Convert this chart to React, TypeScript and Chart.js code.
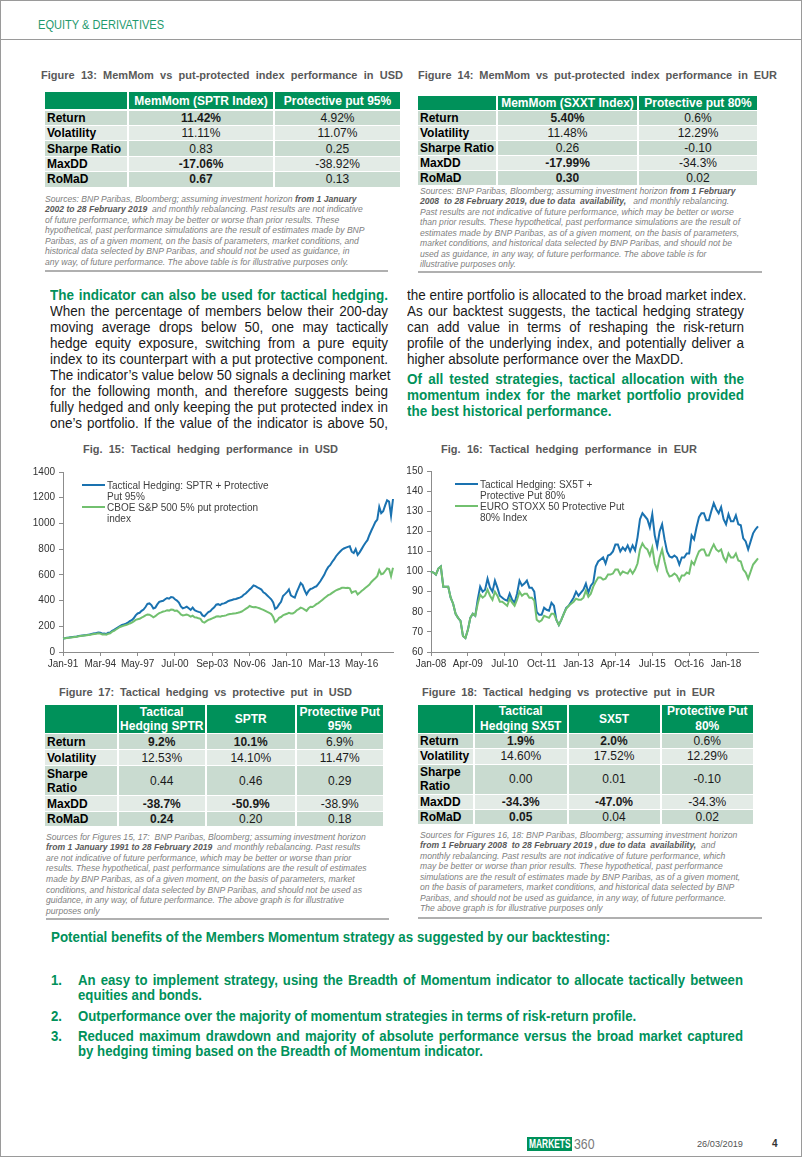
import React, { useEffect, useRef } from "react";
import { Chart, registerables } from "chart.js";

Chart.register(...registerables);

const FONT = "'Liberation Sans', Arial, sans-serif";
const GREEN = "#00915a";
const DARK = "#c9dbd0";
const LIGHT = "#e3ebe6";
const BLUE_LINE = "#1a72b0";
const GREEN_LINE = "#72c06f";

// ---------- categories ----------
const MONTHS = ["Jan", "Feb", "Mar", "Apr", "May", "Jun", "Jul", "Aug", "Sep", "Oct", "Nov", "Dec"];
function monthLabels(startYear: number, count: number, step: number): string[] {
  const out: string[] = [];
  for (let i = 0; i < count; i++) {
    const m = i * step;
    const y = startYear + Math.floor(m / 12);
    out.push(MONTHS[m % 12] + "-" + String(y % 100).padStart(2, "0"));
  }
  return out;
}
// USD: every second month, Jan-91 .. Jan-19
const usdCategories = monthLabels(1991, 169, 2);
// EUR: monthly, Jan-08 .. Feb-19
const eurCategories = monthLabels(2008, 134, 1);
const usdTickEvery = 19; // Jan-91, Mar-94, May-97 ...
const eurTickEvery = 15; // Jan-08, Apr-09, Jul-10 ...
const usdYTicks = { min: 0, max: 1400, step: 200 };
const eurYTicks = { min: 60, max: 150, step: 10 };

// ---------- series ----------
const usdTactical = [
  105, 107, 110, 112, 115, 117, 119, 121, 124, 126,
  128, 130, 132, 135, 138, 143, 145, 148, 152, 150,
  142, 144, 140, 150, 152, 165, 172, 182, 192, 202,
  210, 215, 220, 228, 240, 248, 262, 285, 300, 305,
  320, 330, 350, 375, 378, 365, 338, 345, 370, 390,
  395, 398, 410, 420, 415, 428, 425, 410, 400, 385,
  355, 340, 345, 352, 340, 328, 345, 325, 318, 312,
  308, 285, 278, 295, 310, 318, 335, 348, 368, 372,
  365, 375, 378, 385, 395, 400, 405, 410, 412, 418,
  423, 430, 445, 455, 470, 486, 500, 518, 512, 503,
  495, 486, 465, 455, 440, 425, 410, 385, 335, 345,
  370, 390, 436, 450, 465, 486, 440, 430, 423, 465,
  500, 536, 520, 480, 448, 475, 490, 495, 505, 511,
  530, 550, 575, 600, 635, 660, 675, 700, 720, 745,
  763, 780, 795, 805, 812, 818, 822, 780, 770, 800,
  755, 775, 800, 826, 850, 870, 910, 945, 977, 1010,
  1030, 1128, 1080, 1095, 1140, 1180, 1170, 1060, 1190,
];
const usdProtective = [
  105, 107, 109, 111, 113, 115, 117, 119, 122, 124,
  126, 128, 130, 132, 134, 138, 140, 142, 146, 143,
  136, 138, 135, 142, 145, 158, 165, 175, 185, 195,
  200, 205, 210, 215, 222, 228, 238, 250, 255, 258,
  268, 275, 285, 292, 290, 282, 270, 278, 292, 302,
  308, 315, 318, 325, 322, 330, 328, 320, 322, 310,
  292, 285, 288, 292, 285, 275, 282, 270, 268, 262,
  258, 235, 228, 240, 250, 255, 262, 268, 276, 278,
  275, 280, 282, 285, 292, 295, 297, 300, 302, 305,
  309, 315, 325, 335, 345, 358, 352, 348, 350, 345,
  340, 334, 328, 320, 312, 305, 295, 272, 232, 245,
  265, 272, 285, 292, 297, 305, 300, 300, 309, 325,
  334, 345, 340, 330, 320, 340, 352, 350, 360, 372,
  380, 392, 405, 418, 430, 442, 448, 460, 470, 480,
  486, 492, 499, 500, 498, 499, 495, 461, 470, 474,
  448, 460, 475, 486, 500, 512, 524, 545, 560, 574,
  590, 637, 605, 610, 630, 650, 645, 590, 655,
];
const eurTactical = [
  100, 99.5, 98.5, 101.5, 102.5, 92.5, 92.5, 92.5, 87, 84,
  79, 77, 75.5, 68, 67, 71, 77, 79, 78, 86,
  92.5, 90, 91, 96.5, 92, 90, 95.5, 92, 88, 87,
  86, 85.5, 89, 86, 84.5, 89, 95.5, 93, 94, 95.5,
  92, 92, 90, 80, 78.5, 78.5, 82, 81, 80.5, 84.5,
  83, 76, 73.5, 76, 79, 82, 83, 85, 87, 90,
  88, 89.5, 91, 94, 89.5, 93, 94.5, 102.5, 105, 106,
  107, 104, 108, 108.5, 110, 113.5, 113.5, 110, 112, 110.5,
  113, 110, 113, 110.5, 117, 126, 129, 127.5, 126, 122,
  128.5, 118, 112.5, 120, 123.5, 116, 110, 107.5, 107, 108,
  107, 103.5, 107, 107, 109, 109, 118, 116, 122, 127,
  129, 129, 125.5, 125.5, 130, 134, 131, 129, 132, 126,
  123.5, 128.5, 125, 125, 128, 123.5, 123, 116.5, 115, 111,
  115, 119, 121, 122.5,
];
const eurProtective = [
  100, 99.5, 98.5, 101.5, 102.5, 92.5, 92.5, 92.5, 87, 84,
  79, 77, 75.5, 68, 67, 71, 77, 79, 78, 84,
  88.5, 87, 88, 91, 88, 86, 90, 88, 85, 85,
  84, 83, 86.5, 84.5, 83, 86, 90, 88, 89, 89,
  87, 87, 85.5, 76, 75, 75.8, 78, 77.5, 77, 79,
  79, 76, 73.5, 76, 79, 81.5, 83, 84, 85, 86.5,
  86, 86, 87, 90.5, 87.5, 89, 92.5, 95, 97, 97,
  96, 96.5, 98.5, 98.5, 99, 101, 101, 98.5, 100, 99.5,
  99, 101, 99, 101, 104, 111, 114, 112, 111, 108,
  112, 104, 101, 107, 111, 105, 100, 97.5, 98, 99,
  98, 95.5, 98, 98, 99.5, 99, 105, 103.5, 107, 110,
  111, 111, 108, 108, 111, 113.5, 111, 110, 111, 107,
  105, 109, 107, 107, 109, 105.5, 105, 101, 99.5, 96.5,
  100, 103.5, 105, 106.5,
];

// ---------- chart component ----------
type Series = { label: string; data: number[]; color: string };
function LineChart(props: {
  left: number; top: number; width: number; height: number;
  labels: string[]; series: Series[];
  y: { min: number; max: number; step: number };
  tickEvery: number; yAxisWidth: number; padTop: number; padRight: number;
}) {
  const ref = useRef<HTMLCanvasElement>(null);
  useEffect(() => {
    if (!ref.current) return;
    const axisColor = "#8c8c8c";
    const tickFont = { family: FONT, size: 10 };
    const chart = new Chart(ref.current, {
      type: "line",
      data: {
        labels: props.labels,
        datasets: props.series.map((s) => ({
          label: s.label,
          data: s.data,
          borderColor: s.color,
          backgroundColor: s.color,
          borderWidth: 2,
          pointRadius: 0,
          tension: 0,
          fill: false,
        })),
      },
      options: {
        animation: false,
        responsive: false,
        maintainAspectRatio: false,
        events: [],
        layout: { padding: { top: props.padTop, right: props.padRight, left: 0, bottom: 0 } },
        plugins: { legend: { display: false }, tooltip: { enabled: false } },
        scales: {
          x: {
            type: "category",
            offset: false,
            grid: { drawOnChartArea: false, drawTicks: true, tickLength: 4, color: axisColor },
            border: { display: true, color: axisColor, width: 1 },
            ticks: { autoSkip: false, maxRotation: 0, minRotation: 0, font: tickFont, color: "#333", padding: 2 },
            afterBuildTicks: (scale: any) => {
              scale.ticks = scale.ticks.filter((t: any) => t.value % props.tickEvery === 0);
            },
            afterFit: (scale: any) => {
              scale.height = 23;
            },
          },
          y: {
            min: props.y.min,
            max: props.y.max,
            grid: { drawOnChartArea: false, drawTicks: true, tickLength: 4, color: axisColor },
            border: { display: true, color: axisColor, width: 1 },
            ticks: {
              stepSize: props.y.step,
              font: tickFont,
              color: "#333",
              padding: 4,
              callback: (v: any) => String(v),
            },
            afterFit: (scale: any) => {
              scale.width = props.yAxisWidth;
            },
          },
        },
      },
    } as any);
    return () => chart.destroy();
  }, []);
  return (
    <canvas
      ref={ref}
      width={props.width}
      height={props.height}
      style={{ position: "absolute", left: props.left, top: props.top, width: props.width, height: props.height }}
    />
  );
}

// ---------- text helpers ----------
function L(p: { x: number; y: number; w?: number; j?: boolean; lh?: number; sx?: number; s?: React.CSSProperties; children?: React.ReactNode }) {
  const lh = p.lh ?? 16;
  const sx = p.sx ?? 1;
  return (
    <div
      style={{
        position: "absolute",
        left: p.x,
        top: p.y - lh / 2,
        width: p.w !== undefined ? p.w / sx : undefined,
        height: lh,
        lineHeight: lh + "px",
        whiteSpace: "nowrap",
        textAlign: p.j ? "justify" : "left",
        textAlignLast: p.j ? "justify" : "left",
        transform: sx !== 1 ? `scaleX(${sx})` : undefined,
        transformOrigin: "0 50%",
        ...p.s,
      } as React.CSSProperties}
    >
      {p.children}
    </div>
  );
}

const BODY_SX = 0.87;
const bodyStyle: React.CSSProperties = { fontFamily: FONT, fontSize: 15.5, color: "#1a1a1a" };
const bodyGreen: React.CSSProperties = { fontFamily: FONT, fontSize: 15.5, color: GREEN, fontWeight: "bold" };
const titleStyle: React.CSSProperties = { fontFamily: FONT, fontSize: 11, fontWeight: "bold", color: "#595959" };
const srcStyle: React.CSSProperties = { fontFamily: FONT, fontSize: 8.6, fontStyle: "italic", color: "#808080" };
const B = (p: { children: React.ReactNode }) => <span style={{ fontWeight: "bold", color: "#5a5a5a" }}>{p.children}</span>;

function Source(p: { x: number; y0: number; dy: number; lines: React.ReactNode[] }) {
  return (
    <>
      {p.lines.map((ln, i) => (
        <L key={i} x={p.x} y={p.y0 + i * p.dy} lh={10.5} s={srcStyle}>{ln}</L>
      ))}
    </>
  );
}

// ---------- table ----------
type Row = { label: string; vals: [string, boolean][] };
function Table(p: {
  cols: [number, number][]; headTop: number; headH: number; head: string[];
  rowTops: number[]; rowHs: number[]; rows: Row[]; headLh?: number;
}) {
  const els: React.ReactNode[] = [];
  p.cols.forEach(([a, b], ci) => {
    els.push(
      <div key={"h" + ci} style={{
        position: "absolute", left: a, top: p.headTop, width: b - a, height: p.headH, background: GREEN,
        color: "#fff", fontFamily: FONT, fontWeight: "bold", fontSize: 12, lineHeight: (p.headLh ?? 14) + "px",
        display: "flex", alignItems: "center", justifyContent: "center", textAlign: "center", whiteSpace: "pre",
      }}>{p.head[ci]}</div>
    );
  });
  p.rows.forEach((r, ri) => {
    const bg = ri % 2 === 0 ? DARK : LIGHT;
    p.cols.forEach(([a, b], ci) => {
      const isLabel = ci === 0;
      const text = isLabel ? r.label : r.vals[ci - 1][0];
      const bold = isLabel ? true : r.vals[ci - 1][1];
      els.push(
        <div key={"r" + ri + "c" + ci} style={{
          position: "absolute", left: a, top: p.rowTops[ri], width: b - a, height: p.rowHs[ri], background: bg,
          display: "flex", alignItems: "center", justifyContent: isLabel ? "flex-start" : "center",
          paddingLeft: isLabel ? 2 : 0, boxSizing: "border-box", fontFamily: FONT, fontSize: 12, lineHeight: "14px",
          fontWeight: bold ? "bold" : "normal", color: isLabel ? "#000" : "#1a1a1a", whiteSpace: "pre",
        }}>{text}</div>
      );
    });
  });
  return <>{els}</>;
}

const fig13Rows: Row[] = [
  { label: "Return", vals: [["11.42%", true], ["4.92%", false]] },
  { label: "Volatility", vals: [["11.11%", false], ["11.07%", false]] },
  { label: "Sharpe Ratio", vals: [["0.83", false], ["0.25", false]] },
  { label: "MaxDD", vals: [["-17.06%", true], ["-38.92%", false]] },
  { label: "RoMaD", vals: [["0.67", true], ["0.13", false]] },
];
const fig14Rows: Row[] = [
  { label: "Return", vals: [["5.40%", true], ["0.6%", false]] },
  { label: "Volatility", vals: [["11.48%", false], ["12.29%", false]] },
  { label: "Sharpe Ratio", vals: [["0.26", false], ["-0.10", false]] },
  { label: "MaxDD", vals: [["-17.99%", true], ["-34.3%", false]] },
  { label: "RoMaD", vals: [["0.30", true], ["0.02", false]] },
];
const fig17Rows: Row[] = [
  { label: "Return", vals: [["9.2%", true], ["10.1%", true], ["6.9%", false]] },
  { label: "Volatility", vals: [["12.53%", false], ["14.10%", false], ["11.47%", false]] },
  { label: "Sharpe\nRatio", vals: [["0.44", false], ["0.46", false], ["0.29", false]] },
  { label: "MaxDD", vals: [["-38.7%", true], ["-50.9%", true], ["-38.9%", false]] },
  { label: "RoMaD", vals: [["0.24", true], ["0.20", false], ["0.18", false]] },
];
const fig18Rows: Row[] = [
  { label: "Return", vals: [["1.9%", true], ["2.0%", true], ["0.6%", false]] },
  { label: "Volatility", vals: [["14.60%", false], ["17.52%", false], ["12.29%", false]] },
  { label: "Sharpe\nRatio", vals: [["0.00", false], ["0.01", false], ["-0.10", false]] },
  { label: "MaxDD", vals: [["-34.3%", true], ["-47.0%", true], ["-34.3%", false]] },
  { label: "RoMaD", vals: [["0.05", true], ["0.04", false], ["0.02", false]] },
];

function Legend(p: { x: number; y: number; items: { color: string; lines: string[] }[] }) {
  const els: React.ReactNode[] = [];
  let y = p.y;
  p.items.forEach((it, i) => {
    els.push(<div key={"s" + i} style={{ position: "absolute", left: p.x, top: y - 1, width: 23, height: 2.2, background: it.color }} />);
    it.lines.forEach((ln, k) => {
      els.push(
        <L key={"t" + i + "_" + k} x={p.x + 25} y={y + k * 11} lh={11} s={{ fontFamily: FONT, fontSize: 10, color: "#404040" }}>{ln}</L>
      );
    });
    y += 22;
  });
  return <>{els}</>;
}

function Rule(p: { x: number; y: number; w: number; h?: number; c?: string }) {
  return <div style={{ position: "absolute", left: p.x, top: p.y, width: p.w, height: p.h ?? 2, background: p.c ?? "#b0b0b0" }} />;
}

export default function App() {
  const leftLines = [
    "When the percentage of members below their 200-day",
    "moving average drops below 50, one may tactically",
    "hedge equity exposure, switching from a pure equity",
    "index to its counterpart with a put protective component.",
    "The indicator\u2019s value below 50 signals a declining market",
    "for the following month, and therefore suggests being",
    "fully hedged and only keeping the put protected index in",
    "one\u2019s portfolio. If the value of the indicator is above 50,",
  ];
  const rightLines = [
    "the entire portfolio is allocated to the broad market index.",
    "As our backtest suggests, the tactical hedging strategy",
    "can add value in terms of reshaping the risk-return",
    "profile of the underlying index, and potentially deliver a",
  ];
  const LIST_SX = 0.88;
  const listStyle: React.CSSProperties = { fontFamily: FONT, fontSize: 15, color: GREEN, fontWeight: "bold" };
  return (
    <div style={{ position: "absolute", left: 0, top: 0, width: 802, height: 1157, background: "#fff", overflow: "hidden" }}>
      <div style={{ position: "absolute", left: 0, top: 0, width: 802, height: 1157, border: "1.5px solid #9a9a9a", boxSizing: "border-box" }} />
      {/* header */}
      <L x={38} y={25} lh={18} sx={0.82} s={{ fontFamily: FONT, fontSize: 13.5, color: "#1f9a6e" }}>EQUITY &amp; DERIVATIVES</L>
      <Rule x={0} y={38.5} w={802} h={1.5} c="#9a9a9a" />

      {/* Figure 13 */}
      <L x={41} y={75} w={362} j lh={14} s={titleStyle}>Figure 13: MemMom vs put-protected index performance in USD</L>
      <Table
        cols={[[45, 127], [129, 273], [275, 400]]}
        headTop={92} headH={17}
        head={["", "MemMom (SPTR Index)", "Protective put 95%"]}
        rowTops={[110.6, 126, 141.4, 156.8, 172.2]}
        rowHs={[14.4, 14.4, 14.4, 14.4, 14.4]}
        rows={fig13Rows}
      />
      <Source x={45} y0={199} dy={10.5} lines={[
        <>Sources: BNP Paribas, Bloomberg; assuming investment horizon  <B>from 1 January</B></>,
        <><B>2002 to 28 February 2019</B>{"\u00a0\u00a0"}and monthly rebalancing. Past results are not indicative</>,
        "of future performance, which may be better or worse than prior results. These",
        "hypothetical, past performance simulations are the result of estimates made by BNP",
        "Paribas, as of a given moment, on the basis of parameters, market conditions, and",
        "historical data selected by BNP Paribas, and should not be used as guidance, in",
        "any way, of future performance. The above table is for illustrative purposes only.",
      ]} />
      <Rule x={45} y={270} w={343} />

      {/* Figure 14 */}
      <L x={418} y={75} w={359} j lh={14} s={titleStyle}>Figure 14: MemMom vs put-protected index performance in EUR</L>
      <Table
        cols={[[418, 496], [498, 637], [639, 757]]}
        headTop={95.5} headH={14}
        head={["", "MemMom (SXXT Index)", "Protective put 80%"]}
        rowTops={[110.5, 125.5, 140.5, 155.5, 170.5]}
        rowHs={[14, 14, 14, 14, 14]}
        rows={fig14Rows}
      />
      <Source x={420} y0={191} dy={10.5} lines={[
        <>Sources: BNP Paribas, Bloomberg; assuming investment horizon  <B>from 1 February</B></>,
        <><B>2008{"\u00a0\u00a0"}to 28 February 2019, due to data{"\u00a0\u00a0"}availability,</B>{"\u00a0\u00a0\u00a0"}and monthly rebalancing.</>,
        "Past results are not indicative of future performance, which may be better or worse",
        "than prior results. These hypothetical, past performance simulations are the result of",
        "estimates made by BNP Paribas, as of a given moment, on the basis of parameters,",
        "market conditions, and historical data selected by BNP Paribas, and should not be",
        "used as guidance, in any way, of future performance. The above table is for",
        "illustrative purposes only.",
      ]} />
      <Rule x={418} y={271} w={344} />

      {/* body text */}
      <L x={50} y={295} w={338} j sx={BODY_SX} s={bodyGreen}>The indicator can also be used for tactical hedging.</L>
      {leftLines.map((t, i) => (
        <L key={"l" + i} x={50} y={311 + i * 16.05} w={338} j sx={BODY_SX} s={bodyStyle}>{t}</L>
      ))}
      {rightLines.map((t, i) => (
        <L key={"r" + i} x={407} y={295 + i * 16} w={337} j sx={BODY_SX} s={bodyStyle}>{t}</L>
      ))}
      <L x={407} y={359} sx={BODY_SX} s={bodyStyle}>higher absolute performance over the MaxDD.</L>
      <L x={407} y={379} w={337} j sx={BODY_SX} s={bodyGreen}>Of all tested strategies, tactical allocation with the</L>
      <L x={407} y={395} w={337} j sx={BODY_SX} s={bodyGreen}>momentum index for the market portfolio provided</L>
      <L x={407} y={411} sx={BODY_SX} s={bodyGreen}>the best historical performance.</L>

      {/* Fig 15 */}
      <L x={83} y={449} w={255} j lh={14} s={titleStyle}>Fig. 15: Tactical hedging performance in USD</L>
      <LineChart
        left={30} top={460} width={370} height={215}
        labels={usdCategories}
        series={[
          { label: "CBOE S&P 500 5% put protection index", data: usdProtective, color: GREEN_LINE },
          { label: "Tactical Hedging: SPTR + Protective Put 95%", data: usdTactical, color: BLUE_LINE },
        ]}
        y={usdYTicks} tickEvery={usdTickEvery} yAxisWidth={33} padTop={12} padRight={7}
      />
      <Legend x={82} y={485} items={[
        { color: BLUE_LINE, lines: ["Tactical Hedging: SPTR + Protective", "Put 95%"] },
        { color: GREEN_LINE, lines: ["CBOE S&P 500 5% put protection", "index"] },
      ]} />

      {/* Fig 16 */}
      <L x={441} y={449} w={256} j lh={14} s={titleStyle}>Fig. 16: Tactical hedging performance in EUR</L>
      <LineChart
        left={400} top={460} width={365} height={215}
        labels={eurCategories}
        series={[
          { label: "EURO STOXX 50 Protective Put 80% Index", data: eurProtective, color: GREEN_LINE },
          { label: "Tactical Hedging: SX5T + Protective Put 80%", data: eurTactical, color: BLUE_LINE },
        ]}
        y={eurYTicks} tickEvery={eurTickEvery} yAxisWidth={31} padTop={11} padRight={7}
      />
      <Legend x={455} y={484} items={[
        { color: BLUE_LINE, lines: ["Tactical Hedging: SX5T +", "Protective Put 80%"] },
        { color: GREEN_LINE, lines: ["EURO STOXX 50 Protective Put", "80% Index"] },
      ]} />

      {/* Figure 17 */}
      <L x={59} y={692} w={293} j lh={14} s={titleStyle}>Figure 17: Tactical hedging vs protective put in USD</L>
      <Table
        cols={[[45, 116.5], [118.5, 205], [207, 294.5], [296.5, 383]]}
        headTop={705} headH={28} headLh={14.5}
        head={["", "Tactical\nHedging SPTR", "SPTR", "Protective Put\n95%"]}
        rowTops={[734, 750, 766, 796, 812]}
        rowHs={[15, 15, 29, 15, 14]}
        rows={fig17Rows}
      />
      <Source x={46} y0={837} dy={10.57} lines={[
        "Sources for Figures 15, 17:\u00a0\u00a0BNP Paribas, Bloomberg; assuming investment horizon",
        <><B>from 1 January 1991 to 28 February 2019</B>{"\u00a0\u00a0"}and monthly rebalancing. Past results</>,
        "are not indicative of future performance, which may be better or worse than prior",
        "results. These hypothetical, past performance simulations are the result of estimates",
        "made by BNP Paribas, as of a given moment, on the basis of parameters, market",
        "conditions, and historical data selected by BNP Paribas, and should not be used as",
        "guidance, in any way, of future performance. The above graph is for illustrative",
        "purposes only",
      ]} />
      <Rule x={46} y={918} w={343} />

      {/* Figure 18 */}
      <L x={422} y={692} w={293} j lh={14} s={titleStyle}>Figure 18: Tactical hedging vs protective put in EUR</L>
      <Table
        cols={[[418, 473], [475, 566.5], [568.5, 659.5], [661.5, 753]]}
        headTop={705} headH={27.5} headLh={14.5}
        head={["", "Tactical\nHedging SX5T", "SX5T", "Protective Put\n80%"]}
        rowTops={[734, 749, 764.5, 794.5, 810]}
        rowHs={[14, 14.5, 29, 14.5, 14]}
        rows={fig18Rows}
      />
      <Source x={420} y0={835} dy={10.5} lines={[
        "Sources for Figures 16, 18: BNP Paribas, Bloomberg; assuming investment horizon",
        <><B>from 1 February 2008{"\u00a0\u00a0"}to 28 February 2019 , due to data{"\u00a0\u00a0"}availability,</B>{"\u00a0\u00a0"}and</>,
        "monthly rebalancing. Past results are not indicative of future performance, which",
        "may be better or worse than prior results. These hypothetical, past performance",
        "simulations are the result of estimates made by BNP Paribas, as of a given moment,",
        "on the basis of parameters, market conditions, and historical data selected by BNP",
        "Paribas, and should not be used as guidance, in any way, of future performance.",
        "The above graph is for illustrative purposes only",
      ]} />
      <Rule x={418} y={917} w={344} />

      {/* benefits */}
      <L x={51} y={937} sx={0.86} s={{ ...listStyle, fontSize: 15.5 }}>Potential benefits of the Members Momentum strategy as suggested by our backtesting:</L>
      <L x={51} y={980} sx={LIST_SX} s={listStyle}>1.</L>
      <L x={78} y={980} w={665} j sx={LIST_SX} s={listStyle}>An easy to implement strategy, using the Breadth of Momentum indicator to allocate tactically between</L>
      <L x={78} y={995} sx={LIST_SX} s={listStyle}>equities and bonds.</L>
      <L x={51} y={1016} sx={LIST_SX} s={listStyle}>2.</L>
      <L x={78} y={1016} sx={LIST_SX} s={listStyle}>Outperformance over the majority of momentum strategies in terms of risk-return profile.</L>
      <L x={51} y={1036} sx={LIST_SX} s={listStyle}>3.</L>
      <L x={78} y={1036} w={665} j sx={LIST_SX} s={listStyle}>Reduced maximum drawdown and majority of absolute performance versus the broad market captured</L>
      <L x={78} y={1051} sx={LIST_SX} s={listStyle}>by hedging timing based on the Breadth of Momentum indicator.</L>

      {/* footer */}
      <div style={{ position: "absolute", left: 527, top: 1137, width: 45, height: 14, background: GREEN, overflow: "hidden" }}>
        <div style={{ position: "absolute", left: 2, top: 0, width: 41 / 0.7, color: "#fff", fontFamily: FONT, fontWeight: "bold", fontSize: 12, lineHeight: "14px", textAlign: "center", transform: "scaleX(0.7)", transformOrigin: "0 50%", whiteSpace: "nowrap" }}>MARKETS</div>
      </div>
      <L x={574} y={1144} lh={16} sx={0.85} s={{ fontFamily: FONT, fontSize: 14.5, color: "#7a7a7a" }}>360</L>
      <L x={697} y={1144} lh={12} s={{ fontFamily: FONT, fontSize: 9.2, color: "#555" }}>26/03/2019</L>
      <L x={772} y={1144} lh={12} s={{ fontFamily: FONT, fontSize: 10, fontWeight: "bold", color: "#333" }}>4</L>
    </div>
  );
}
